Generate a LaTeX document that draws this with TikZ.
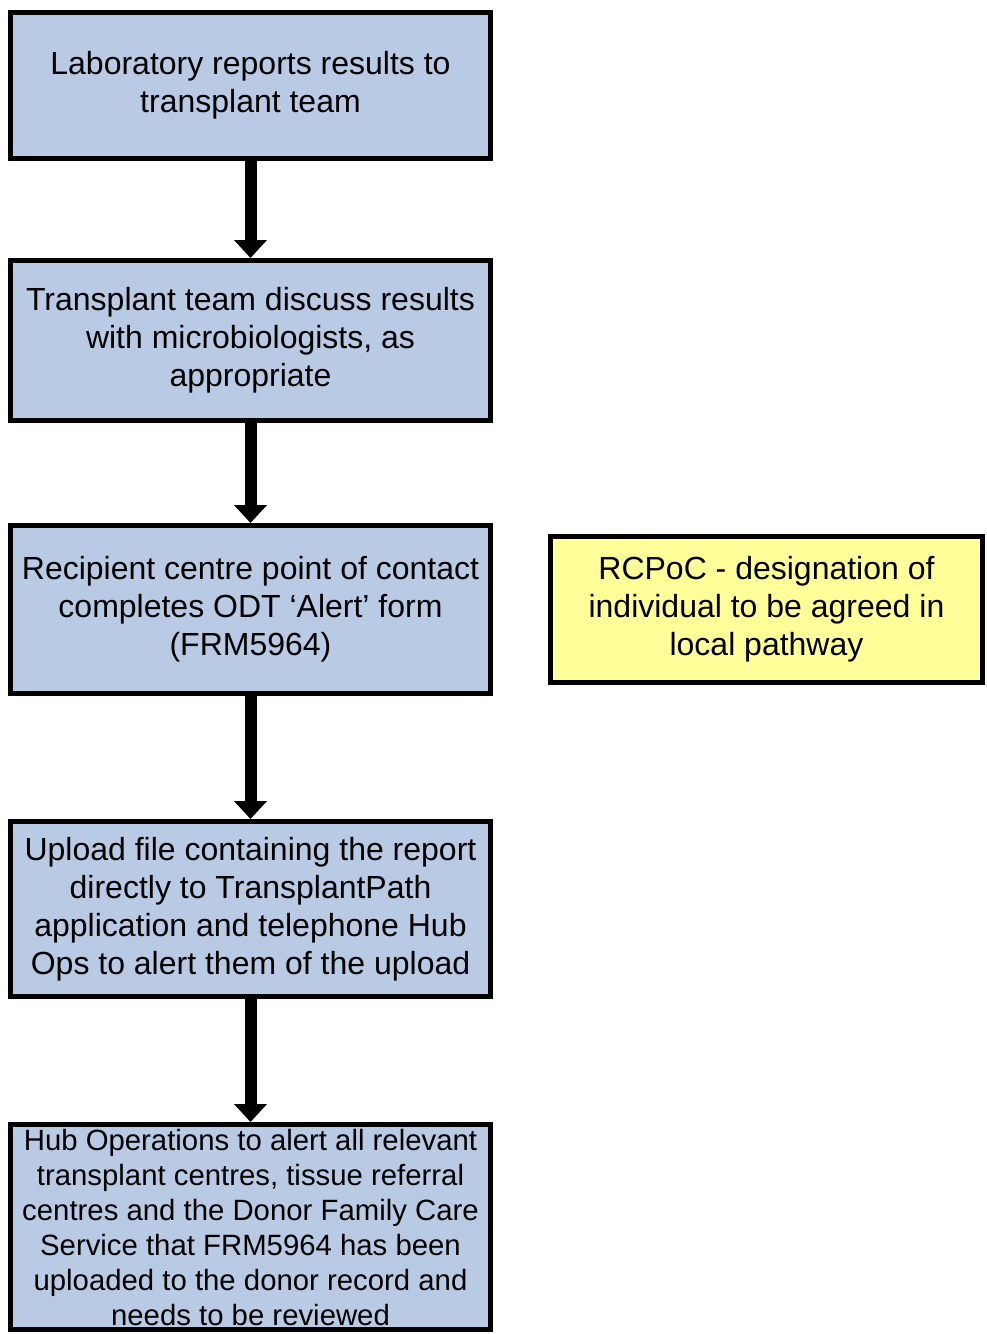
\documentclass[tikz,border=0pt]{standalone}
\usepackage{fontspec}
\setmainfont{Liberation Sans}
\usetikzlibrary{arrows.meta}
\definecolor{stepblue}{HTML}{B9CAE4}
\definecolor{noteyellow}{HTML}{FFFF99}
\tikzset{
  stepbox/.style={draw,line width=3.75pt,fill=stepblue,minimum width=360pt,align=center,inner sep=0pt,
    font=\fontsize{24}{28.5}\selectfont},
  notebox/.style={stepbox,fill=noteyellow,minimum width=324pt},
  flow/.style={line width=9pt,-{Triangle[width=24pt,length=13.5pt]}}
}
\begin{document}
\begin{tikzpicture}[x=0.75pt,y=-0.75pt]
\useasboundingbox (0,0) rectangle (987,1334);
\node[stepbox,minimum height=109.5pt] (lab) at (250.5,85.5) {Laboratory reports results to\\transplant team};
\node[stepbox,minimum height=120pt] (discuss) at (250.5,340.5) {Transplant team discuss results\\with microbiologists, as\\appropriate};
\node[stepbox,minimum height=126pt] (alert) at (250.5,609.5) {Recipient centre point of contact\\completes ODT ‘Alert’ form\\(FRM5964)};
\node[stepbox,minimum height=131.25pt] (upload) at (250.5,909) {Upload file containing the report\\directly to TransplantPath\\application and telephone Hub\\Ops to alert them of the upload};
\node[stepbox,minimum height=153.75pt,font=\fontsize{22}{26.25}\selectfont] (hub) at (250.5,1227) {Hub Operations to alert all relevant\\transplant centres, tissue referral\\centres and the Donor Family Care\\Service that FRM5964 has been\\uploaded to the donor record and\\needs to be reviewed};
\node[notebox,minimum height=109.5pt] (rcpoc) at (766.5,609.5) {RCPoC - designation of\\individual to be agreed in\\local pathway};
\draw[flow] (lab) -- (discuss);
\draw[flow] (discuss) -- (alert);
\draw[flow] (alert) -- (upload);
\draw[flow] (upload) -- (hub);
\end{tikzpicture}
\end{document}
